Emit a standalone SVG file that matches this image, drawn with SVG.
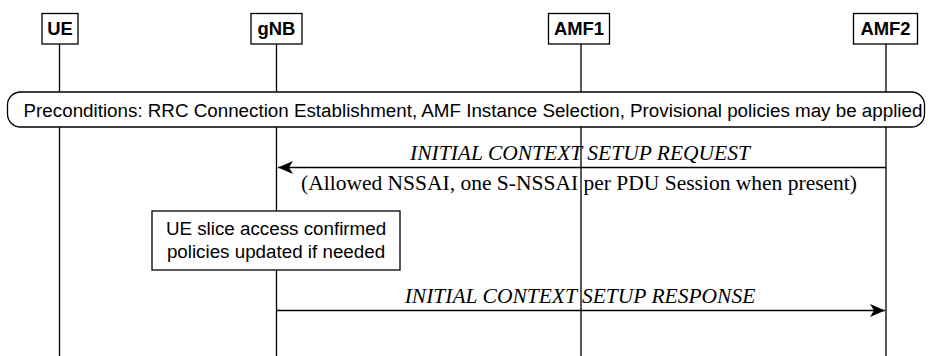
<svg xmlns="http://www.w3.org/2000/svg" width="932" height="356" viewBox="0 0 932 356">
<style>
.box{fill:#fff;stroke:#000;stroke-width:1.3}
.life{stroke:#000;stroke-width:1.3;fill:none}
.hdr{font-family:"Liberation Sans",Arial,sans-serif;font-weight:bold;font-size:18.4px;text-anchor:middle}
.sans{font-family:"Liberation Sans",Arial,sans-serif;font-size:18.8px;text-anchor:middle}
.msg{font-family:"Liberation Serif","Times New Roman",serif;font-size:21.5px;text-anchor:middle}
.it{font-style:italic}
.arr{stroke:#000;stroke-width:1.3;fill:none}
</style>
<defs>
<marker id="ah" markerWidth="16" markerHeight="16" viewBox="0 0 16 16" refX="15" refY="8" orient="auto" markerUnits="userSpaceOnUse">
<path d="M0,1.5 L15,8 L0,14.5 L4,8 Z" fill="#000"/>
</marker>
</defs>
<g id="lifelines">
<line class="life" x1="59.5" y1="44" x2="59.5" y2="356"/>
<line class="life" x1="276.5" y1="44" x2="276.5" y2="356"/>
<line class="life" x1="581" y1="44" x2="581" y2="356"/>
<line class="life" x1="886" y1="44" x2="886" y2="356"/>
</g>
<g id="UE"><rect class="box" x="42" y="13.5" width="36" height="30.5"/><text class="hdr" x="60" y="35">UE</text></g>
<g id="gNB"><rect class="box" x="251" y="13.5" width="51" height="30.5"/><text class="hdr" x="276.5" y="35">gNB</text></g>
<g id="AMF1"><rect class="box" x="548.5" y="13.5" width="61" height="30.5"/><text class="hdr" x="579" y="35">AMF1</text></g>
<g id="AMF2"><rect class="box" x="853.5" y="13.5" width="64" height="30.5"/><text class="hdr" x="885.5" y="35">AMF2</text></g>
<g id="preconditions"><rect class="box" x="7.5" y="92" width="917" height="35" rx="13" ry="13"/><text class="sans" x="473" y="116.5">Preconditions: RRC Connection Establishment, AMF Instance Selection, Provisional policies may be applied</text></g>
<g id="note"><rect class="box" x="152" y="211" width="248" height="59"/><text class="sans" x="276" y="234.5">UE slice access confirmed</text><text class="sans" x="276" y="257.5">policies updated if needed</text></g>
<g id="connectors">
<line class="arr" x1="886" y1="167.5" x2="278" y2="167.5" marker-end="url(#ah)"/>
<text class="msg it" x="580" y="160">INITIAL CONTEXT SETUP REQUEST</text>
<text class="msg" x="579" y="189.5">(Allowed NSSAI, one S-NSSAI per PDU Session when present)</text>
<line class="arr" x1="276.5" y1="310.5" x2="885" y2="310.5" marker-end="url(#ah)"/>
<text class="msg it" x="580" y="302.5">INITIAL CONTEXT SETUP RESPONSE</text>
</g>
</svg>
